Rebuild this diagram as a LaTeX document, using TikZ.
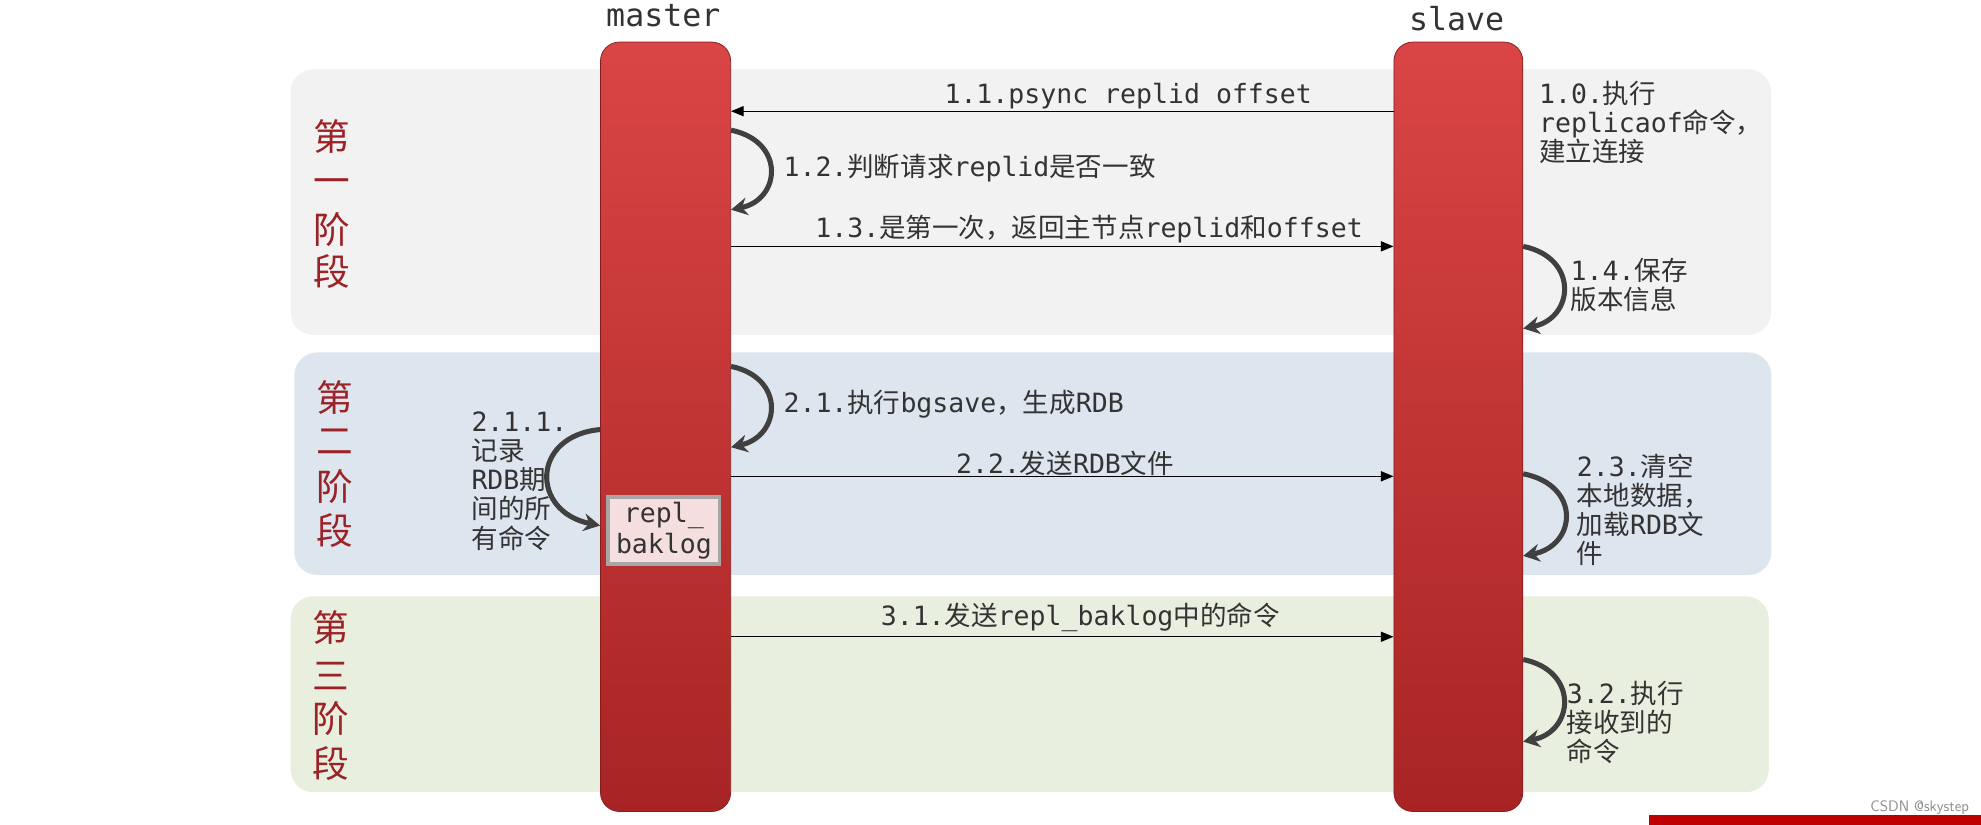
\documentclass[tikz,border=0pt]{standalone}
\usepackage{fontspec}
\setmainfont{DejaVu Sans Mono}
\newfontfamily\cjk{Noto Sans CJK SC}
\usetikzlibrary{arrows.meta}
\definecolor{txt}{HTML}{333333}
\definecolor{stg}{HTML}{9B2226}
\definecolor{redtop}{HTML}{DA4545}
\definecolor{redbot}{HTML}{A82424}
\tikzset{
  panel/.style={rounded corners=18pt, draw=none},
  bar/.style={rounded corners=15pt, top color=redtop, bottom color=redbot, draw=redbot!80!black, line width=0.6pt},
  msg/.style={-{Triangle[length=10pt,width=8pt]}, line width=1pt, black},
  loop/.style={-{Stealth[length=13pt,width=14pt]}, line width=4pt, black!75},
  lbl/.style={text=txt, font=\fontsize{21}{23}\selectfont, inner sep=0pt},
  ml/.style={lbl, align=left, anchor=north west},
  stage/.style={text=stg, font=\cjk\fontsize{29}{33}\selectfont, inner sep=0pt},
}
\newcommand{\z}[1]{{\cjk #1}}
\begin{document}
\begin{tikzpicture}[x=1pt,y=1pt]
\useasboundingbox[fill=white] (0,0) rectangle (1568,-653);
% panels
\fill[panel, fill={rgb,255:red,242;green,242;blue,242}] (230,-55) rectangle (1402,-265);
\fill[panel, fill={rgb,255:red,221;green,229;blue,239}] (233,-279) rectangle (1402,-455);
\fill[panel, fill={rgb,255:red,233;green,239;blue,223}] (230,-472) rectangle (1400,-627);
% stage labels
\node[stage] (s11) at (263,-108) {第}; \node[stage] (s12) at (263,-148) {一};
\node[stage] (s13) at (263,-182) {阶}; \node[stage] (s14) at (263,-215) {段};
\node[stage] (s21) at (265,-315) {第}; \node[stage] (s22) at (265,-350) {二};
\node[stage] (s23) at (265,-385) {阶}; \node[stage] (s24) at (265,-420) {段};
\node[stage] (s31) at (262,-497) {第}; \node[stage] (s32) at (262,-535) {三};
\node[stage] (s33) at (262,-569) {阶}; \node[stage] (s34) at (262,-604) {段};
% bars
\node[bar, minimum width=103pt, minimum height=609pt, anchor=north west] (master) at (475,-33) {};
\node[bar, minimum width=102pt, minimum height=609pt, anchor=north west] (slave) at (1103,-33) {};
\node[lbl, font=\fontsize{25}{28}\selectfont] (mlab) at (525,-12) {master};
\node[lbl, font=\fontsize{25}{28}\selectfont] (slab) at (1153,-15) {slave};
% repl_baklog
\node[draw=black!35, line width=3pt, fill={rgb,255:red,245;green,222;blue,222}, minimum width=88pt, minimum height=53pt, align=center, text=txt, font=\fontsize{21}{24}\selectfont, inner sep=0pt] (repl) at (525.5,-420) {repl\_\\baklog};
% coordinates
\foreach \n/\y in {a/88,b/195,c/377,d/504}{
  \coordinate (m\n) at (master.east |- 0,-\y);
  \coordinate (s\n) at (slave.west |- 0,-\y);
}
% messages
\draw[msg] (sa) -- (ma);
\node[lbl] (t11) at (893,-76) {1.1.psync replid offset};
\draw[msg] (mb) -- (sb);
\node[lbl] (t13) at (862,-181) {1.3.\z{是第一次，返回主节点}replid\z{和}offset};
\draw[msg] (mc) -- (sc);
\node[lbl] (t22) at (843,-367) {2.2.\z{发送}RDB\z{文件}};
\draw[msg] (md) -- (sd);
\node[lbl] (t31) at (855,-489) {3.1.\z{发送}repl\_baklog\z{中的命令}};
% self loops
\coordinate (l12a) at (master.east |- 0,-103); \coordinate (l12b) at (master.east |- 0,-166);
\draw[loop] (l12a) .. controls (622,-112) and (618,-158) .. (l12b);
\node[lbl, anchor=west] (t12) at (620,-133) {1.2.\z{判断请求}replid\z{是否一致}};
\coordinate (l21a) at (master.east |- 0,-290); \coordinate (l21b) at (master.east |- 0,-354);
\draw[loop] (l21a) .. controls (622,-299) and (618,-345) .. (l21b);
\node[lbl, anchor=west] (t21) at (620,-320) {2.1.\z{执行}bgsave\z{，生成}RDB};
\coordinate (l14a) at (slave.east |- 0,-195); \coordinate (l14b) at (slave.east |- 0,-260);
\draw[loop] (l14a) .. controls (1250,-204) and (1246,-252) .. (l14b);
\node[ml] (t14) at (1243,-204) {1.4.\z{保存}\\\z{版本信息}};
\coordinate (l23a) at (slave.east |- 0,-375); \coordinate (l23b) at (slave.east |- 0,-440);
\draw[loop] (l23a) .. controls (1252,-384) and (1248,-432) .. (l23b);
\node[ml] (t23) at (1248,-359) {2.3.\z{清空}\\\z{本地数据，}\\\z{加载}RDB\z{文}\\\z{件}};
\coordinate (l32a) at (slave.east |- 0,-522); \coordinate (l32b) at (slave.east |- 0,-587);
\draw[loop] (l32a) .. controls (1250,-531) and (1246,-579) .. (l32b);
\node[ml] (t32) at (1240,-539) {3.2.\z{执行}\\\z{接收到的}\\\z{命令}};
% left loop 2.1.1
\coordinate (l211a) at (master.west |- 0,-340); \coordinate (l211b) at (master.west |- 0,-416);
\draw[loop] (l211a) .. controls (420,-345) and (420,-405) .. (l211b);
\node[ml] (t211) at (373,-326) {2.1.1.\\\z{记录}\\RDB\z{期}\\\z{间的所}\\\z{有命令}};
% 1.0
\node[ml] (t10) at (1218,-64) {1.0.\z{执行}\\replicaof\z{命令，}\\\z{建立连接}};
% watermark
\fill[red!75!black] (1305,-645) rectangle (1568,-653);
\node[text=black!45, font=\fontsize{12}{13}\selectfont\sffamily, anchor=east] (wm) at (1562,-639) {CSDN @skystep};
\end{tikzpicture}
\end{document}
